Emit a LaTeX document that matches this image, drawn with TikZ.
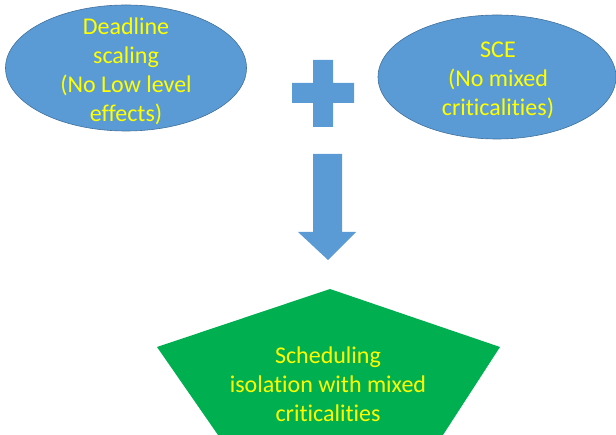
\documentclass[tikz,border=0pt]{standalone}
\usepackage{fontspec}
\setmainfont[Ligatures=NoCommon]{Carlito}
\usepackage{xcolor}
\usetikzlibrary{shapes.geometric, positioning}
\definecolor{blobblue}{HTML}{5B9BD5}
\definecolor{edgeblue}{HTML}{41719C}
\definecolor{wordyellow}{HTML}{FFFF00}
\definecolor{pentgreen}{HTML}{00B050}

\begin{document}
\begin{tikzpicture}[x=1pt, y=-1pt,
    blob/.style={ellipse, fill=blobblue, draw=edgeblue, line width=0.6pt, inner sep=0pt},
    words/.style={text=wordyellow, font=\fontsize{24}{29}\selectfont, align=center}]
    \useasboundingbox (0,0) rectangle (616,435);
    \clip (0,0) rectangle (616,435);

    % Draw the two input ellipses
    \node[blob, minimum width=241pt, minimum height=126pt] (scaling) at (126,68) {};
    \node[words] (scalingtext) at (126,71) {Deadline\\scaling\\(No Low level\\effects)};
    \node[blob, minimum width=238pt, minimum height=124pt] (sce) at (497,77) {};
    \node[words] (scetext) at (498,80) {SCE\\(No mixed\\criticalities)};

    % Draw the plus sign
    \fill[blobblue] (313,60) -- (333,60) -- (333,83) -- (354,83) -- (354,103) -- (333,103)
        -- (333,127) -- (313,127) -- (313,103) -- (292,103) -- (292,83) -- (313,83) -- cycle;

    % Draw the down arrow
    \fill[blobblue] (313,154) -- (342,154) -- (342,232) -- (356,232) -- (328,260)
        -- (298,232) -- (313,232) -- cycle;

    % Draw the result pentagon
    \fill[pentgreen] (330,289) -- (500,347) -- (443,435) -- (218,435) -- (157,347) -- cycle;
    \node[words] (result) at (328,384) {Scheduling\\isolation with mixed\\criticalities};
\end{tikzpicture}
\end{document}
